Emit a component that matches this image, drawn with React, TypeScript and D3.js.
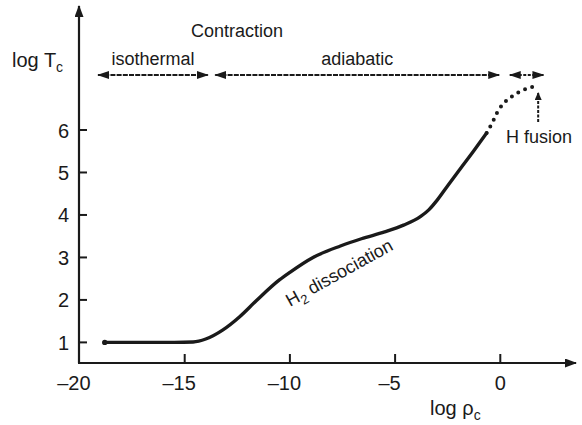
import React from "react";
import * as d3 from "d3";

const xTicks = [-20, -15, -10, -5, 0];
const yTicks = [1, 2, 3, 4, 5, 6];

// solid part of the track (log rho_c, log T_c)
const solidRho = [-18.8, -17.0, -15.5, -14.6, -14.0, -13.2, -12.4, -11.6, -10.5, -10.0, -8.9, -7.6, -6.6, -5.5, -4.6, -3.8, -3.4, -3.0, -2.5, -1.9, -1.25, -0.65];
const solidT = [1.0, 1.0, 1.0, 1.01, 1.08, 1.29, 1.6, 1.98, 2.47, 2.65, 3.0, 3.27, 3.44, 3.6, 3.76, 3.96, 4.12, 4.35, 4.69, 5.09, 5.52, 5.93];

// dotted part (approach to H fusion)
const dotRho = [-0.65, -0.39, -0.16, 0.16, 0.56, 0.95, 1.35, 1.7];
const dotT = [5.93, 6.16, 6.4, 6.63, 6.79, 6.91, 6.99, 7.04];

// phase arrows (in log rho_c)
const phaseNames = ["isothermal", "adiabatic"];
const phaseFrom = [-19.12, -13.55];
const phaseTo = [-13.9, -0.05];
const fusionFrom = 0.45;
const fusionTo = 2.05;

const FONT = "'Liberation Sans', Arial, Helvetica, sans-serif";
const INK = "#1a1a1a";

export default function App() {
  const x = d3.scaleLinear().domain([-20, 0]).range([79.5, 500.3]);
  const y = d3.scaleLinear().domain([1, 6]).range([342.4, 130]);
  const axisY = 363;
  const axisX = 79;
  const arrowY = 75;

  const line = d3
    .line<number>()
    .x((_, i) => x(solidRho[i]))
    .y((_, i) => y(solidT[i]))
    .curve(d3.curveMonotoneX);
  const dline = d3
    .line<number>()
    .x((_, i) => x(dotRho[i]))
    .y((_, i) => y(dotT[i]))
    .curve(d3.curveMonotoneX);

  const digitW = 0.556 * 20;

  return (
    <svg
      width={582}
      height={425}
      style={{ position: "absolute", left: 0, top: 0, background: "#fff" }}
      fontFamily={FONT}
    >
      <defs>
        <marker id="ah" viewBox="0 0 12 8" refX="11" refY="4" markerWidth="12" markerHeight="8" markerUnits="userSpaceOnUse" orient="auto-start-reverse">
          <path d="M0,0 L12,4 L0,8 z" fill={INK} />
        </marker>
        <marker id="ahs" viewBox="0 0 8 7" refX="7" refY="3.5" markerWidth="8" markerHeight="7" markerUnits="userSpaceOnUse" orient="auto">
          <path d="M0,0 L8,3.5 L0,7 z" fill={INK} />
        </marker>
        <marker id="axh" viewBox="0 0 12 9" refX="11" refY="4.5" markerWidth="12" markerHeight="9" markerUnits="userSpaceOnUse" orient="auto">
          <path d="M0,0 L12,4.5 L0,9 z" fill={INK} />
        </marker>
      </defs>

      {/* axes */}
      <line x1={axisX} y1={axisY} x2={axisX} y2={6} stroke={INK} strokeWidth={2.2} markerEnd="url(#axh)" />
      <line x1={axisX - 1} y1={axisY} x2={576} y2={axisY} stroke={INK} strokeWidth={2.2} markerEnd="url(#axh)" />

      {/* y ticks */}
      {yTicks.map((t) => (
        <g key={"y" + t}>
          <line x1={axisX} x2={axisX + 8} y1={y(t)} y2={y(t)} stroke={INK} strokeWidth={2} />
          <text x={69} y={y(t) + 7.5} fontSize={20} textAnchor="end" fill={INK}>
            {String(t)}
          </text>
        </g>
      ))}

      {/* x ticks */}
      {xTicks.map((t) => {
        const label = t < 0 ? "\u2013" + String(Math.abs(t)) : String(t);
        const nd = String(Math.abs(t)).length;
        return (
          <g key={"x" + t}>
            {t !== -20 && (
              <line x1={x(t)} x2={x(t)} y1={axisY} y2={axisY - 9} stroke={INK} strokeWidth={2} />
            )}
            <text x={x(t) + (nd * digitW) / 2} y={390} fontSize={20} textAnchor="end" fill={INK}>
              {label}
            </text>
          </g>
        );
      })}

      {/* axis titles */}
      <text x={12} y={67} fontSize={20} fill={INK}>
        log T<tspan fontSize={14} dy={5}>c</tspan>
      </text>
      <text x={430} y={415} fontSize={20} fill={INK}>
        log ρ<tspan fontSize={14} dy={5}>c</tspan>
      </text>

      {/* curve */}
      <path d={line(solidRho) || ""} fill="none" stroke={INK} strokeWidth={3.4} strokeLinecap="round" />
      <circle cx={x(solidRho[0])} cy={y(solidT[0])} r={2.7} fill={INK} />
      <path d={dline(dotRho) || ""} fill="none" stroke={INK} strokeWidth={4} strokeLinecap="round" strokeDasharray="0 7.5" />

      {/* phase arrows */}
      <text x={191} y={37} fontSize={18} fill={INK}>Contraction</text>
      {phaseNames.map((n, i) => (
        <g key={n}>
          <line
            x1={x(phaseFrom[i])}
            x2={x(phaseTo[i])}
            y1={arrowY}
            y2={arrowY}
            stroke={INK}
            strokeWidth={2}
            strokeDasharray="5 1.2"
            markerStart="url(#ah)"
            markerEnd="url(#ah)"
          />
          <text x={(x(phaseFrom[i]) + x(phaseTo[i])) / 2} y={65} fontSize={18} textAnchor="middle" fill={INK}>
            {n}
          </text>
        </g>
      ))}
      <line
        x1={x(fusionFrom)}
        x2={x(fusionTo)}
        y1={arrowY}
        y2={arrowY}
        stroke={INK}
        strokeWidth={2}
        strokeDasharray="3 1.5"
        markerStart="url(#ah)"
        markerEnd="url(#ah)"
      />

      {/* H fusion annotation */}
      <line x1={x(1.8)} x2={x(1.8)} y1={122} y2={93} stroke={INK} strokeWidth={2} strokeDasharray="3 1.5" markerEnd="url(#ahs)" />
      <text x={506} y={143} fontSize={18} fill={INK}>H fusion</text>

      {/* H2 dissociation label */}
      <text transform="translate(290,307) rotate(-29)" fontSize={18} fill={INK}>
        H<tspan fontSize={13} dy={5}>2</tspan>
        <tspan dy={-5}> dissociation</tspan>
      </text>
    </svg>
  );
}
